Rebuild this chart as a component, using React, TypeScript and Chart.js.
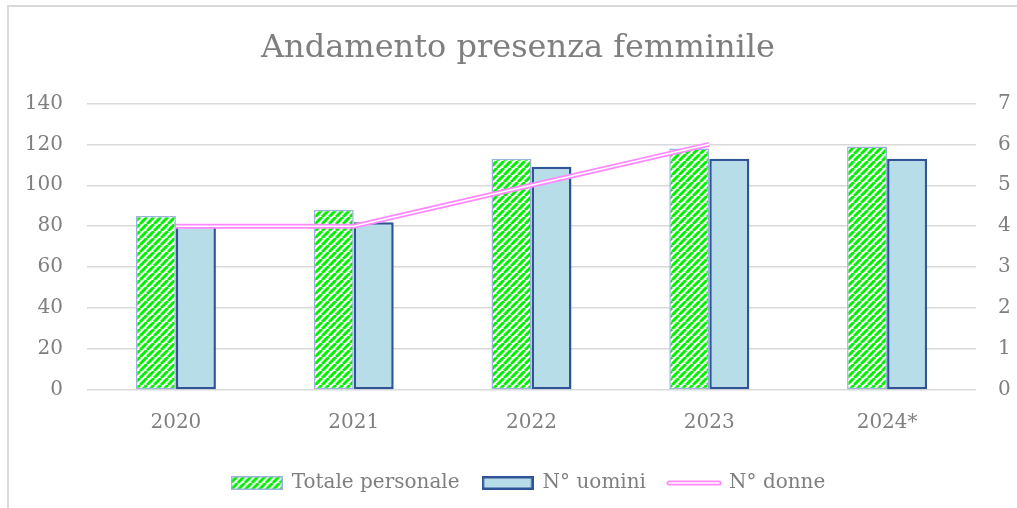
import React, { useEffect, useRef } from "react";
import { Chart, registerables } from "chart.js";

Chart.register(...registerables);

const chartTitle = "Andamento presenza femminile";
const categories = ["2020", "2021", "2022", "2023", "2024*"];
const seriesNames = ["Totale personale", "N° uomini", "N° donne"];
const totalePersonale = [85, 88, 113, 118, 119];
const uomini = [81, 82, 109, 113, 113];
const donne: (number | null)[] = [4, 4, 5, 6, null];
const leftAxis = { min: 0, max: 140, step: 20 };
const rightAxis = { min: 0, max: 7, step: 1 };

const FONT = "'DejaVu Serif', serif";
const TEXT = "#7F7F7F";
const GREEN = "#00F000";
const GREEN_BORDER = "#9DB3DC";
const BLUE_FILL = "#B7DDE8";
const BLUE_BORDER = "#2F5597";
const PINK = "#FF88FF";
const GRID = "#D9D9D9";

function makeStripePattern(): CanvasPattern {
  const size = 7;
  const c = document.createElement("canvas");
  c.width = size;
  c.height = size;
  const ctx = c.getContext("2d")!;
  ctx.fillStyle = "#ffffff";
  ctx.fillRect(0, 0, size, size);
  ctx.strokeStyle = GREEN;
  ctx.lineWidth = 3;
  ctx.beginPath();
  for (const off of [-size, 0, size]) {
    ctx.moveTo(off, size);
    ctx.lineTo(off + size, 0);
  }
  ctx.stroke();
  return ctx.createPattern(c, "repeat")!;
}

function makeIcon(kind: number, pattern: CanvasPattern): HTMLCanvasElement {
  const c = document.createElement("canvas");
  if (kind === 0) {
    c.width = 52;
    c.height = 14;
    const g = c.getContext("2d")!;
    g.fillStyle = pattern;
    g.fillRect(0, 0, 52, 14);
    g.strokeStyle = GREEN_BORDER;
    g.lineWidth = 1.5;
    g.strokeRect(0.75, 0.75, 50.5, 12.5);
  } else if (kind === 1) {
    c.width = 52;
    c.height = 14;
    const g = c.getContext("2d")!;
    g.fillStyle = BLUE_FILL;
    g.fillRect(0, 0, 52, 14);
    g.strokeStyle = BLUE_BORDER;
    g.lineWidth = 2.5;
    g.strokeRect(1.25, 1.25, 49.5, 11.5);
  } else {
    c.width = 56;
    c.height = 6;
    const g = c.getContext("2d")!;
    g.lineCap = "round";
    g.strokeStyle = PINK;
    g.lineWidth = 5;
    g.beginPath();
    g.moveTo(3, 3);
    g.lineTo(53, 3);
    g.stroke();
    g.strokeStyle = "#ffffff";
    g.lineWidth = 1.5;
    g.beginPath();
    g.moveTo(3, 3);
    g.lineTo(53, 3);
    g.stroke();
  }
  return c;
}

// white core of the double pink line, following the line dataset's own points
const innerLinePlugin = {
  id: "innerLine",
  afterDatasetsDraw(chart: any) {
    const meta = chart.getDatasetMeta(2);
    if (!meta || meta.hidden) return;
    const ctx = chart.ctx as CanvasRenderingContext2D;
    ctx.save();
    ctx.strokeStyle = "#ffffff";
    ctx.lineWidth = 1.5;
    ctx.lineJoin = "round";
    ctx.beginPath();
    let started = false;
    meta.data.forEach((pt: any, i: number) => {
      if (donne[i] === null || pt.skip) {
        started = false;
        return;
      }
      if (!started) {
        ctx.moveTo(pt.x, pt.y);
        started = true;
      } else ctx.lineTo(pt.x, pt.y);
    });
    ctx.stroke();
    ctx.restore();
  },
};

// the reference is a crop of a wider chart: centre title/legend like it
const boxShiftPlugin = {
  id: "boxShift",
  afterLayout(chart: any) {
    if (chart.titleBlock) chart.titleBlock.left = 19;
    if (chart.legend) chart.legend.left = 40;
  },
};

export default function App() {
  const ref = useRef<HTMLCanvasElement | null>(null);

  useEffect(() => {
    if (!ref.current) return;
    const pattern = makeStripePattern();
    const icons = [0, 1, 2].map((k) => makeIcon(k, pattern));
    const font = { family: FONT, size: 20, weight: "normal" as const };

    const chart = new Chart(ref.current, {
      type: "bar",
      data: {
        labels: categories,
        datasets: [
          {
            type: "bar",
            label: seriesNames[0],
            data: totalePersonale,
            backgroundColor: pattern,
            borderColor: GREEN_BORDER,
            borderWidth: 1.5,
            borderSkipped: false,
            yAxisID: "y",
            order: 1,
            categoryPercentage: 0.45,
            barPercentage: 1,
          },
          {
            type: "bar",
            label: seriesNames[1],
            data: uomini,
            backgroundColor: BLUE_FILL,
            borderColor: BLUE_BORDER,
            borderWidth: 2.5,
            borderSkipped: false,
            yAxisID: "y",
            order: 1,
            categoryPercentage: 0.45,
            barPercentage: 1,
          },
          {
            type: "line",
            label: seriesNames[2],
            data: donne,
            borderColor: PINK,
            backgroundColor: PINK,
            borderWidth: 5,
            pointRadius: 0,
            tension: 0,
            spanGaps: false,
            yAxisID: "y1",
            order: 0,
          },
        ],
      } as any,
      options: {
        responsive: false,
        animation: false,
        layout: { padding: { left: 0, right: 0, top: 0, bottom: 5 } },
        plugins: {
          title: {
            display: true,
            text: chartTitle,
            color: TEXT,
            font: { family: FONT, size: 32, weight: "normal" },
            padding: { top: 29, bottom: 36 },
          },
          legend: {
            display: true,
            position: "bottom",
            maxHeight: 59,
            labels: {
              usePointStyle: true,
              pointStyleWidth: 50,
              padding: 23,
              color: TEXT,
              font,
              generateLabels: () =>
                seriesNames.map((name, i) => ({
                  text: name,
                  pointStyle: icons[i] as any,
                  fillStyle: "rgba(0,0,0,0)",
                  strokeStyle: "rgba(0,0,0,0)",
                  lineWidth: 0,
                  hidden: false,
                  datasetIndex: i,
                  fontColor: TEXT,
                })),
            },
          },
          tooltip: { enabled: false },
        },
        scales: {
          x: {
            grid: { display: false, drawTicks: false },
            border: { display: false },
            ticks: { color: TEXT, font, padding: 21 },
            afterFit: (s: any) => {
              s.height = 60;
            },
          },
          y: {
            position: "left",
            min: leftAxis.min,
            max: leftAxis.max,
            ticks: { stepSize: leftAxis.step, color: TEXT, font, padding: 24 },
            grid: { color: GRID, lineWidth: 1.5, drawTicks: false },
            border: { display: false },
            afterFit: (s: any) => {
              s.width = 87;
            },
          },
          y1: {
            position: "right",
            min: rightAxis.min,
            max: rightAxis.max,
            ticks: { stepSize: rightAxis.step, color: TEXT, font, padding: 22 },
            grid: { display: false, drawTicks: false },
            border: { display: false },
            afterFit: (s: any) => {
              s.width = 41;
            },
          },
        },
      } as any,
      plugins: [innerLinePlugin, boxShiftPlugin],
    });
    return () => chart.destroy();
  }, []);

  return (
    <div
      style={{
        position: "fixed",
        left: 0,
        top: 0,
        width: 1017,
        height: 508,
        overflow: "hidden",
        background: "#ffffff",
      }}
    >
      <div
        style={{
          position: "absolute",
          left: 7,
          top: 5,
          width: 1100,
          height: 600,
          border: "2px solid #D9D9D9",
        }}
      />
      <canvas
        ref={ref}
        width={1017}
        height={508}
        style={{ position: "absolute", left: 0, top: 0, display: "block" }}
      />
    </div>
  );
}
